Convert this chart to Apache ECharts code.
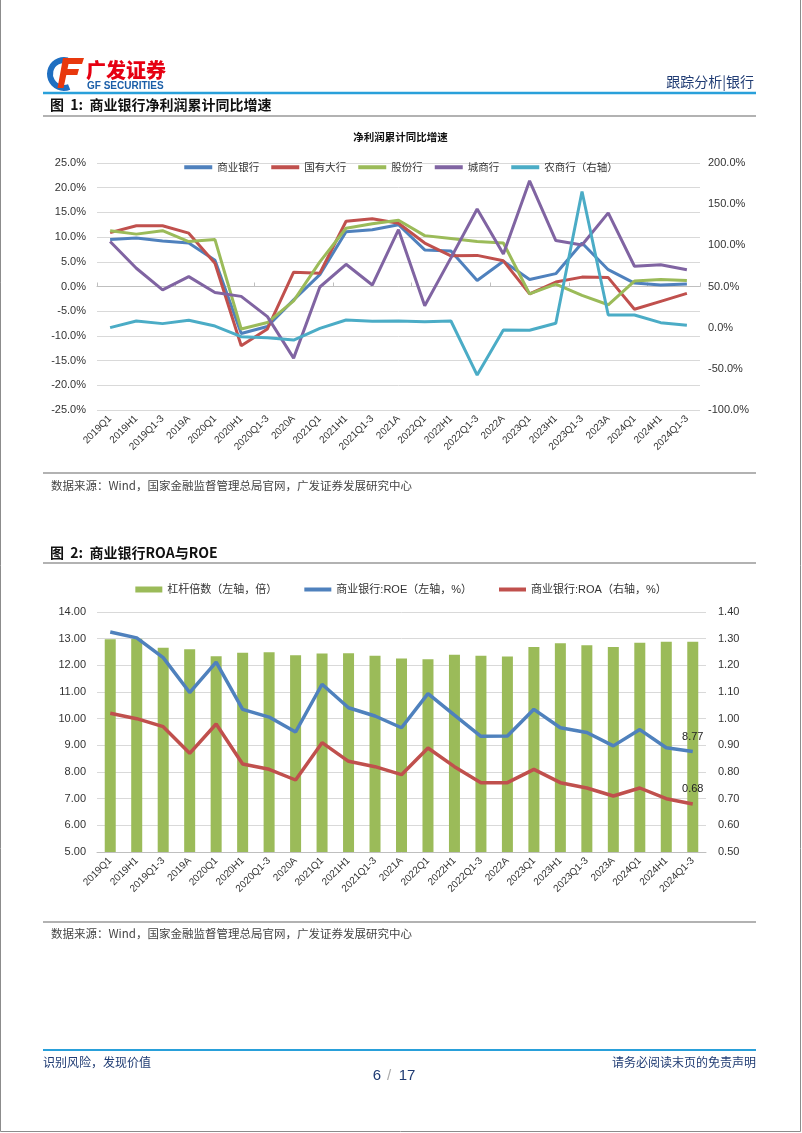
<!DOCTYPE html>
<html>
<head>
<meta charset="utf-8">
<script src="https://cdn.jsdelivr.net/npm/echarts@6/dist/echarts.min.js"></script>
<style>
html,body{margin:0;padding:0;background:#fff;}
#main{width:802px;height:1133px;}
</style>
</head>
<body>
<div id="main"></div>
<script>
// ---------- data ----------
const categories = ['2019Q1','2019H1','2019Q1-3','2019A','2020Q1','2020H1','2020Q1-3','2020A','2021Q1','2021H1','2021Q1-3','2021A','2022Q1','2022H1','2022Q1-3','2022A','2023Q1','2023H1','2023Q1-3','2023A','2024Q1','2024H1','2024Q1-3'];

// Figure 1: net profit cumulative YoY growth (%)
const commercialBanks = [9.5, 9.8, 9.2, 8.8, 5.3, -9.5, -8.1, -2.7, 2.4, 11.1, 11.5, 12.5, 7.4, 7.2, 1.2, 5.1, 1.4, 2.6, 8.8, 3.4, 0.7, 0.3, 0.5];
const stateOwned = [10.9, 12.3, 12.3, 10.8, 4.7, -12.0, -8.6, 2.9, 2.7, 13.2, 13.7, 12.8, 8.8, 6.2, 6.3, 5.2, -1.5, 0.9, 1.9, 1.8, -4.6, -3.0, -1.4];
const jointStock = [11.3, 10.6, 11.3, 9.1, 9.5, -8.6, -7.3, -2.9, 5.0, 11.8, 12.7, 13.4, 10.3, 9.7, 9.1, 8.8, -1.5, 0.5, -1.8, -3.7, 1.1, 1.4, 1.2];
const cityCommercial = [9.1, 3.7, -0.7, 2.0, -1.2, -2.0, -6.1, -14.5, -0.1, 4.5, 0.3, 11.5, -3.9, 5.8, 15.7, 6.6, 21.4, 9.3, 8.4, 14.9, 4.1, 4.4, 3.4];
const ruralCommercial = [0.0, 8.1, 4.9, 8.9, 2.0, -10.9, -12.2, -15.0, -0.8, 9.3, 7.7, 8.1, 7.3, 8.1, -57.6, -2.8, -3.2, 5.3, 165.4, 15.4, 15.4, 6.1, 2.8];

// Figure 2: leverage, ROE, ROA
const leverage = [12.98, 13.00, 12.66, 12.60, 12.34, 12.47, 12.49, 12.38, 12.44, 12.45, 12.36, 12.26, 12.23, 12.40, 12.36, 12.33, 12.69, 12.83, 12.75, 12.69, 12.85, 12.88, 12.88];
const roe = [13.25, 13.03, 12.29, 10.98, 12.12, 10.35, 10.06, 9.50, 11.29, 10.41, 10.10, 9.66, 10.94, 10.13, 9.34, 9.35, 10.35, 9.66, 9.48, 8.98, 9.59, 8.91, 8.77];
const roa = [1.02, 1.00, 0.97, 0.87, 0.98, 0.83, 0.81, 0.77, 0.91, 0.84, 0.82, 0.79, 0.89, 0.82, 0.76, 0.76, 0.81, 0.76, 0.74, 0.71, 0.74, 0.70, 0.68];

const names1 = ['商业银行','国有大行','股份行','城商行','农商行（右轴）'];
const names2 = ['杠杆倍数（左轴，倍）','商业银行:ROE（左轴，%）','商业银行:ROA（右轴，%）'];

// ---------- styles ----------
const CJK = "'Noto Sans CJK SC','Liberation Sans',sans-serif";
const LAT = "'Liberation Sans','Noto Sans CJK SC',Arial,sans-serif";
const colors1 = ['#4F81BD','#C0504D','#9BBB59','#8064A2','#4BACC6'];
const grid1 = {left: 97, top: 163, width: 603, height: 247};
const grid2 = {left: 97, top: 612, width: 609, height: 240};
const axisLabelColor = '#333';
const gridLineColor = '#d9d9d9';

const chart = echarts.init(document.getElementById('main'), null, {renderer: 'canvas', width: 802, height: 1133});

function txt(text, x, y, font, fill, align, extra) {
  return Object.assign({
    type: 'text', silent: true,
    style: {text: text, x: x, y: y, font: font, fill: fill,
            align: align || 'left', verticalAlign: 'middle',
            textAlign: align || 'left', textVerticalAlign: 'middle'}
  }, extra || {});
}
function hline(x1, x2, y, color, w) {
  return {type: 'line', silent: true, shape: {x1: x1, y1: y, x2: x2, y2: y}, style: {stroke: color, lineWidth: w}};
}

const graphics = [
  // page frame (left, bottom, right)
  {type: 'polyline', silent: true, shape: {points: [[0.5, 0], [0.5, 1131.5], [800.5, 1131.5], [800.5, 0]]}, style: {stroke: '#8c8c8c', lineWidth: 1, fill: null}},
  // logo icon
  {type: 'sector', silent: true, shape: {cx: 64, cy: 74, r: 17, r0: 11, startAngle: Math.PI * 0.38, endAngle: Math.PI * 1.58, clockwise: true}, style: {fill: '#1f6fc1'}},
  {type: 'polygon', silent: true, shape: {points: [[63, 58], [84, 58], [82, 64], [68.5, 64], [67.5, 69], [79, 69], [77.3, 75], [66.3, 75], [63.5, 88], [57.5, 88]]}, style: {fill: '#e8380d'}},
  txt('广发证券', 86, 70, "900 20px " + CJK, '#e60012'),
  txt('GF SECURITIES', 87, 86, "bold 10px " + LAT, '#1a5ea8'),
  txt('跟踪分析|银行', 754, 82, "14px " + CJK, '#1f3b73', 'right'),
  hline(43, 756, 93, '#29a0da', 2.5),
  txt('图  1:  商业银行净利润累计同比增速', 50, 104.5, "bold 14px " + CJK, '#111'),
  hline(43, 756, 116, '#999', 1.5),
  txt('净利润累计同比增速', 400.5, 137.5, "bold 10.5px " + CJK, '#111', 'center'),
  hline(43, 756, 473, '#999', 1.5),
  txt('数据来源：Wind，国家金融监督管理总局官网，广发证券发展研究中心', 51, 486, "11.5px " + CJK, '#444'),
  txt('图  2:  商业银行ROA与ROE', 50, 553, "bold 14px " + CJK, '#111'),
  hline(43, 756, 563, '#999', 1.5),
  hline(43, 756, 922, '#999', 1.5),
  txt('数据来源：Wind，国家金融监督管理总局官网，广发证券发展研究中心', 51, 933.5, "11.5px " + CJK, '#444'),
  // footer
  hline(43, 756, 1050, '#29a0da', 2),
  txt('识别风险，发现价值', 43, 1062, "12px " + CJK, '#1f3b73'),
  txt('请务必阅读末页的免责声明', 756, 1062, "12px " + CJK, '#1f3b73', 'right'),
  txt('6', 377, 1076, "15px " + LAT, '#1f3b73', 'center'),
  txt('/', 389, 1076, "15px " + LAT, '#aaa', 'center'),
  txt('17', 407, 1076, "15px " + LAT, '#1f3b73', 'center')
];

const lastIdx = categories.length - 1;
const linePath = 'path://M0,0h27v4h-27z';

// label only the last point of a series
function lastLabeled(arr) {
  return arr.map((v, i) => i === lastIdx ? {
    value: v, symbol: 'circle', symbolSize: 0.1,
    label: {show: true, position: 'top', distance: 9, fontSize: 11, color: '#222', fontFamily: LAT,
            formatter: p => Number(p.value).toFixed(2)}
  } : v);
}

const option = {
  animation: false,
  backgroundColor: '#fff',
  textStyle: {fontFamily: LAT},
  graphic: {elements: graphics},
  legend: [
    {
      data: names1.map(n => ({name: n, icon: 'rect'})),
      left: 'center', top: 157, itemWidth: 28, itemHeight: 4, itemGap: 12,
      selectedMode: false,
      textStyle: {fontFamily: CJK, fontSize: 10.5, color: '#333'}
    },
    {
      data: [
        {name: names2[0], icon: 'rect'},
        {name: names2[1], icon: linePath},
        {name: names2[2], icon: linePath}
      ],
      left: 'center', top: 579, itemWidth: 27, itemHeight: 6, itemGap: 27,
      selectedMode: false,
      textStyle: {fontFamily: LAT, fontSize: 11, color: '#333'}
    }
  ],
  grid: [
    Object.assign({outerBoundsMode: 'none', containLabel: false}, grid1),
    Object.assign({outerBoundsMode: 'none', containLabel: false}, grid2)
  ],
  xAxis: [
    {
      type: 'category', gridIndex: 0, data: categories, boundaryGap: true,
      axisLine: {show: false, onZero: false}, axisTick: {show: false},
      axisLabel: {rotate: 45, interval: 0, fontSize: 10, color: axisLabelColor, margin: 7, fontFamily: LAT}
    },
    {
      type: 'category', gridIndex: 0, data: categories, boundaryGap: true,
      axisLine: {show: true, onZero: true, onZeroAxisIndex: 0, lineStyle: {color: '#bfbfbf', width: 1}},
      axisTick: {show: true, length: 4, lineStyle: {color: '#bfbfbf'}},
      axisLabel: {show: false}
    },
    {
      type: 'category', gridIndex: 1, data: categories, boundaryGap: true,
      axisLine: {show: true, onZero: false, lineStyle: {color: '#bfbfbf', width: 1}},
      axisTick: {show: false},
      axisLabel: {rotate: 45, interval: 0, fontSize: 10, color: axisLabelColor, margin: 7, fontFamily: LAT}
    }
  ],
  yAxis: [
    {
      type: 'value', gridIndex: 0, position: 'left', min: -25, max: 25, interval: 5,
      axisLine: {show: false}, axisTick: {show: false},
      splitLine: {show: true, lineStyle: {color: gridLineColor, width: 1}},
      axisLabel: {fontSize: 11, color: axisLabelColor, margin: 11, formatter: v => v.toFixed(1) + '%'}
    },
    {
      type: 'value', gridIndex: 0, position: 'right', min: -100, max: 200, interval: 50,
      axisLine: {show: false}, axisTick: {show: false}, splitLine: {show: false},
      axisLabel: {fontSize: 11, color: axisLabelColor, margin: 8, formatter: v => v.toFixed(1) + '%'}
    },
    {
      type: 'value', gridIndex: 1, position: 'left', min: 5, max: 14, interval: 1,
      axisLine: {show: false}, axisTick: {show: false},
      splitLine: {show: true, lineStyle: {color: gridLineColor, width: 1}},
      axisLabel: {fontSize: 11, color: axisLabelColor, margin: 11, formatter: v => v.toFixed(2)}
    },
    {
      type: 'value', gridIndex: 1, position: 'right', min: 0.5, max: 1.4, interval: 0.1,
      axisLine: {show: false}, axisTick: {show: false}, splitLine: {show: false},
      axisLabel: {fontSize: 11, color: axisLabelColor, margin: 12, formatter: v => v.toFixed(2)}
    }
  ],
  series: [
    {name: names1[0], type: 'line', xAxisIndex: 0, yAxisIndex: 0, data: commercialBanks, symbol: 'none', lineStyle: {width: 3, color: colors1[0]}, itemStyle: {color: colors1[0]}},
    {name: names1[1], type: 'line', xAxisIndex: 0, yAxisIndex: 0, data: stateOwned, symbol: 'none', lineStyle: {width: 3, color: colors1[1]}, itemStyle: {color: colors1[1]}},
    {name: names1[2], type: 'line', xAxisIndex: 0, yAxisIndex: 0, data: jointStock, symbol: 'none', lineStyle: {width: 3, color: colors1[2]}, itemStyle: {color: colors1[2]}},
    {name: names1[3], type: 'line', xAxisIndex: 0, yAxisIndex: 0, data: cityCommercial, symbol: 'none', lineStyle: {width: 3, color: colors1[3]}, itemStyle: {color: colors1[3]}},
    {name: names1[4], type: 'line', xAxisIndex: 0, yAxisIndex: 1, data: ruralCommercial, symbol: 'none', lineStyle: {width: 3, color: colors1[4]}, itemStyle: {color: colors1[4]}},

    {name: names2[0], type: 'bar', xAxisIndex: 2, yAxisIndex: 2, data: leverage, barWidth: 11, itemStyle: {color: '#9BBB59'}},
    {name: names2[1], type: 'line', xAxisIndex: 2, yAxisIndex: 2, data: lastLabeled(roe), symbol: 'none', showSymbol: true,
      lineStyle: {width: 3.5, color: '#4F81BD'}, itemStyle: {color: '#4F81BD'}},
    {name: names2[2], type: 'line', xAxisIndex: 2, yAxisIndex: 3, data: lastLabeled(roa), symbol: 'none', showSymbol: true,
      lineStyle: {width: 3.5, color: '#C0504D'}, itemStyle: {color: '#C0504D'}}
  ]
};
chart.setOption(option);
</script>
</body>
</html>
